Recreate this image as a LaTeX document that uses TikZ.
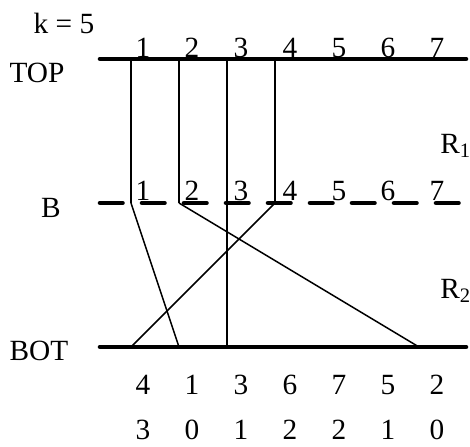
\documentclass[tikz,border=0pt]{standalone}
\usepackage{fontspec}
\setmainfont{Liberation Serif}
\usetikzlibrary{positioning}

\tikzset{
  level/.style={line width=3.4pt, line cap=round},
  blevel/.style={level, dash pattern=on 16.9pt off 14.6pt},
  wire/.style={line width=1.1pt},
  lbl/.style={anchor=base, inner sep=0pt, font=\fontsize{22}{26}\selectfont},
}

\begin{document}
\begin{tikzpicture}[x=0.75pt, y=-0.75pt]
    \useasboundingbox (0,0) rectangle (470,446);
    \clip (0,0) rectangle (470,446);

    % levels
    \coordinate (topL) at (100,59);  \coordinate (topR) at (466,59);
    \coordinate (bL)   at (100,203); \coordinate (bR)   at (464,203);
    \coordinate (botL) at (100,347); \coordinate (botR) at (466,347);
    \draw[level] (topL) -- (topR);
    \draw[blevel] (bL) -- (bR);
    \draw[level] (botL) -- (botR);

    % slots on each level
    \foreach \i in {1,...,7} {
        \coordinate (t\i) at ({131+48*(\i-1)},59);
        \coordinate (b\i) at ({131+48*(\i-1)},203);
        \coordinate (p\i) at ({131+48*(\i-1)},347);
        \node[lbl] (tl\i) at ({143+49*(\i-1)},57) {\i};
        \node[lbl] (bl\i) at ({143+49*(\i-1)},200) {\i};
    }

    % labels
    \node[lbl] (k) at (64,33) {k = 5};
    \node[lbl] (top) at (37,82) {TOP};
    \node[lbl] (b) at (51,217) {B};
    \node[lbl] (bot) at (39,360) {BOT};
    \node[lbl, anchor=base west] (r1) at (440,153) {R\textsubscript{1}};
    \node[lbl, anchor=base west] (r2) at (440,298) {R\textsubscript{2}};

    % order on BOT and second row
    \foreach \v [count=\i] in {4,1,3,6,7,5,2}
        \node[lbl] (pl\i) at ({143+49*(\i-1)},394) {\v};
    \foreach \v [count=\i] in {3,0,1,2,2,1,0}
        \node[lbl] (ql\i) at ({143+49*(\i-1)},439) {\v};

    % wires TOP -> B
    \foreach \i in {1,2,4}
        \draw[wire] (t\i) -- (b\i);
    % wires B -> BOT
    \draw[wire] (b1) -- (p2);
    \draw[wire] (b2) -- (p7);
    \draw[wire] (t3) -- (p3);
    \draw[wire] (b4) -- (p1);
\end{tikzpicture}
\end{document}
